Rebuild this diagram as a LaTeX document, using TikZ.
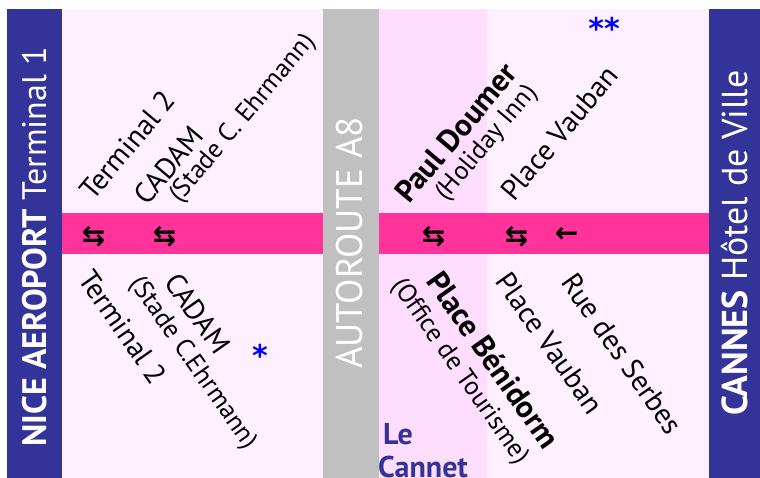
\documentclass[tikz,border=0pt]{standalone}
\usepackage{fontspec}
\usepackage{xcolor}
\setmainfont{PT Sans}
\newfontfamily\arrowfont{DejaVu Sans}
\usetikzlibrary{positioning}
\definecolor{barblue}{RGB}{51, 51, 153}
\definecolor{roadpink}{RGB}{255, 51, 153}
\definecolor{panelpink}{RGB}{255, 240, 255}
\definecolor{cannetpink}{RGB}{255, 221, 255}
\definecolor{roadgray}{RGB}{192, 192, 192}
\tikzset{
  endname/.style={text=white, rotate=90, font=\fontsize{34}{36}\selectfont},
  stopname/.style={font=\fontsize{29}{31}\selectfont},
  keystop/.style={font=\bfseries\fontsize{31}{33}\selectfont},
  stopnote/.style={font=\fontsize{26}{28}\selectfont},
  risestop/.style={rotate=50, anchor=base west},
  fallstop/.style={rotate=-55, anchor=base west},
  dirmark/.style={font=\arrowfont\bfseries\fontsize{28}{30}\selectfont},
  starmark/.style={text=blue, font=\arrowfont\bfseries\fontsize{30}{32}\selectfont}
}

\begin{document}
\begin{tikzpicture}[x=1pt, y=-1pt, inner sep=0pt]
\useasboundingbox (0,0) rectangle (760,478);
\fill[white] (0,0) rectangle (760,478);

\fill[panelpink] (62,9) rectangle (323,478);
\fill[cannetpink] (379,9) rectangle (487,478);
\fill[panelpink] (487,9) rectangle (709,478);
\fill[roadpink] (62,213) rectangle (709,254);
\fill[roadgray] (323,9) rectangle (379,478);
\fill[barblue] (7,9) rectangle (62,478);
\fill[barblue] (709,9) rectangle (760,478);

\node[endname] (nice) at (35,247) {\textbf{NICE AEROPORT} Terminal 1};
\node[endname, font=\fontsize{36}{38}\selectfont] (cannes) at (735,243) {\textbf{CANNES} Hôtel de Ville};
\node[endname, font=\fontsize{37}{39}\selectfont] (a8) at (350,243) {AUTOROUTE A8};

\node[stopname, risestop] (term2U) at (93,202) {Terminal 2};
\node[stopname, risestop] (cadamU) at (147,207) {CADAM};
\node[stopnote, risestop] (stadeU) at (180,204) {(Stade C. Ehrmann)};
\node[keystop, risestop] (doumerU) at (409,205) {Paul Doumer};
\node[stopnote, risestop] (holidayU) at (446,202) {(Holiday Inn)};
\node[stopname, risestop] (vaubanU) at (514,203) {Place Vauban};

\node[stopname, fallstop] (term2D) at (77,279) {Terminal 2};
\node[stopname, fallstop] (cadamD) at (163,282) {CADAM};
\node[stopnote, fallstop] (stadeD) at (129,283) {(Stade C.Ehrmann)};
\node[keystop, fallstop] (benidormD) at (425,281) {Place Bénidorm};
\node[stopnote, fallstop] (officeD) at (391,285) {(Office de Tourisme)};
\node[stopname, fallstop] (vaubanD) at (494,281) {Place Vauban};
\node[stopname, fallstop] (serbesD) at (560,282) {Rue des Serbes};

\node[dirmark] (term2Dir) at (93.5,237) {⇆};
\node[dirmark] (cadamDir) at (164.5,237) {⇆};
\node[dirmark] (doumerDir) at (433.5,237) {⇆};
\node[dirmark] (vaubanDir) at (516.5,237) {⇆};
\node[dirmark] (serbesDir) at (566.5,235) {←};

\node[starmark] (star1) at (260,355) {*};
\node[starmark] (star2) at (604,28) {**};

\node[text=barblue, font=\bfseries\fontsize{30}{33}\selectfont, align=left,
  anchor=south west] (cannet) at (378,478) {\,Le\\Cannet};
\end{tikzpicture}
\end{document}
